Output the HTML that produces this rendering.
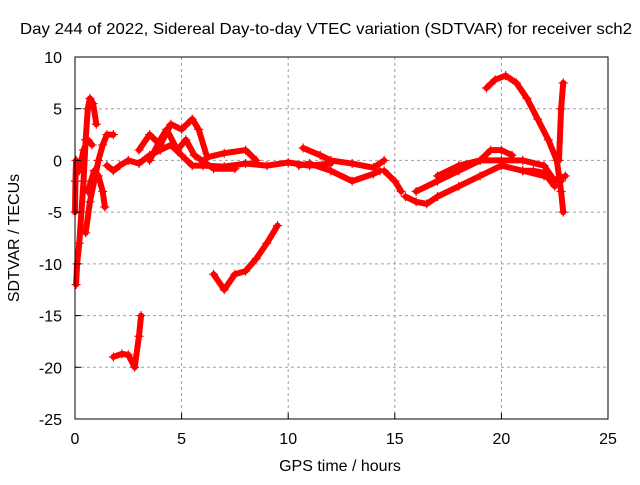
<!DOCTYPE html>
<html><head><meta charset="utf-8"><style>
body{margin:0;background:#fff;font-family:"Liberation Sans",sans-serif}
svg text{font-family:"Liberation Sans",sans-serif;font-size:16px;fill:#000}
</style></head><body>
<svg id="c" width="640" height="480">
<rect width="640" height="480" fill="#fff"/>
<g id="grid"></g>
<g id="series"></g>
<g id="axes"></g>
<text x="326" y="34" text-anchor="middle" textLength="612" lengthAdjust="spacingAndGlyphs">Day 244 of 2022, Sidereal Day-to-day VTEC variation (SDTVAR) for receiver sch2</text>
<text x="340" y="471" text-anchor="middle">GPS time / hours</text>
<text transform="translate(19,238) rotate(-90)" text-anchor="middle">SDTVAR / TECUs</text>
</svg>
<script>
const xTicks=[0,5,10,15,20,25];
const yTicks=[10,5,0,-5,-10,-15,-20,-25];
const tracks=[
[[0.05,-12],[0.1,-10],[0.2,-8],[0.3,-5],[0.4,-2],[0.5,2],[0.6,5],[0.7,6],[0.85,5.5],[1.0,3.5]],
[[0,-5],[0.02,-2],[0.05,0],[0.2,-1],[0.4,1],[0.6,2],[0.8,1.5]],
[[0.5,-7],[0.7,-4],[0.9,-2],[1.1,0],[1.3,1.5],[1.5,2.5],[1.8,2.5]],
[[0.6,-3],[0.9,-1],[1.1,-1.5],[1.3,-3],[1.4,-4.5]],
[[1.5,-0.5],[1.8,-1],[2.1,-0.5],[2.5,0],[3,-0.3],[3.5,0.5],[4,1],[4.5,1.5],[5,0.5],[5.5,-0.5],[6,-0.5],[7,-0.6],[8,-0.3],[9,-0.5],[10,-0.2],[11,-0.5],[12,-0.3]],
[[3,1],[3.5,2.5],[4,1.5],[4.5,3.5],[5,3],[5.5,4],[5.8,3],[6.2,0.3],[7,0.7],[8,1],[8.5,0]],
[[3.5,0],[4,2],[4.3,3],[4.8,1],[5.2,2],[5.6,0.5],[6.5,-0.8],[7.5,-0.8]],
[[1.8,-19],[2.2,-18.7],[2.5,-18.8],[2.8,-20],[3,-17],[3.1,-15]],
[[6.5,-11],[7,-12.5],[7.5,-11],[8,-10.7],[8.5,-9.5],[9,-8],[9.5,-6.3]],
[[10.7,1.2],[11.5,0.5],[12,0],[13,-0.3],[14,-0.7],[14.5,0]],
[[10.5,-0.5],[11,-0.3],[12,-1],[13,-2],[14,-1.3],[14.3,-1]],
[[14.5,-1],[15,-2],[15.3,-3]],
[[15.5,-3.5],[16,-4],[16.5,-4.2],[17,-3.5],[18,-2.5],[19,-1.5],[20,-0.5],[21,-1],[22,-1.5],[22.8,-2]],
[[16,-3],[17,-2],[18,-1],[19,0],[19.5,1],[20,1],[20.5,0.5]],
[[17,-1.5],[18,-0.5],[19,0],[20,0],[21,0],[22,-0.5],[22.5,-2],[23,-1.5]],
[[19.3,7],[19.7,7.8],[20.2,8.2],[20.7,7.5],[21.2,6],[21.7,4],[22.2,2],[22.6,0],[22.8,-3],[22.9,-5]],
[[22.7,0],[22.8,5],[22.9,7.5]],
[[21,-1],[21.5,-1],[22,-1.2],[22.5,-2.5]]
];
const X0=75,X1=608,Y0=57,Y1=419;
const sx=v=>X0+(v-0)*(X1-X0)/25;
const sy=v=>Y0+(10-v)*(Y1-Y0)/35;
const NS='http://www.w3.org/2000/svg';
const mk=(t,a,p)=>{const e=document.createElementNS(NS,t);for(const k in a)e.setAttribute(k,a[k]);p.appendChild(e);return e;};
const grid=document.getElementById('grid'),axes=document.getElementById('axes'),ser=document.getElementById('series');
xTicks.forEach(t=>{const x=sx(t);
 if(t>0&&t<25){const g=mk('line',{x1:x,x2:x,y1:Y0,y2:Y1,stroke:'#a0a0a0','stroke-dasharray':'3,3'},grid);}
 const l=mk('line',{x1:x,x2:x,y1:Y1,y2:Y1-6,stroke:'#000'},axes);
 const tx=mk('text',{x:x,y:Y1+25,'text-anchor':'middle'},axes);tx.textContent=t;});
yTicks.forEach(t=>{const y=sy(t);
 if(t<10&&t>-25){const g=mk('line',{x1:X0,x2:X1,y1:y,y2:y,stroke:'#a0a0a0','stroke-dasharray':'3,3'},grid);}
 const l=mk('line',{x1:X0,x2:X0+6,y1:y,y2:y,stroke:'#000'},axes);
 const tx=mk('text',{x:X0-13,y:y+6,'text-anchor':'end'},axes);tx.textContent=t;});
const fr=mk('rect',{x:X0,y:Y0,width:X1-X0,height:Y1-Y0,fill:'none',stroke:'#000'},axes);

tracks.forEach(tr=>{
 const pl=mk('polyline',{points:tr.map(p=>sx(p[0])+','+sy(p[1])).join(' '),fill:'none',stroke:'#f00','stroke-width':6,'stroke-linejoin':'round','stroke-linecap':'round'},ser);
 
 tr.forEach(p=>{const x=sx(p[0]),y=sy(p[1]);
  const m=mk('path',{d:`M${x-4.5},${y}h9M${x},${y-4.5}v9`,stroke:'#f00','stroke-width':1.2},ser);
  });
});
</script>
</body></html>
